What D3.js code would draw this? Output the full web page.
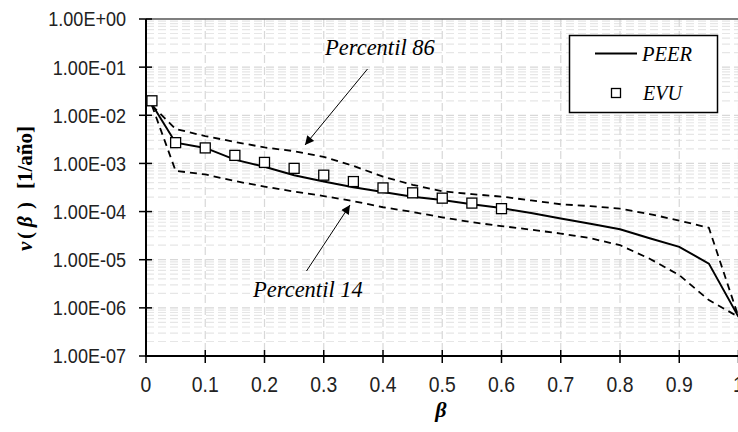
<!DOCTYPE html>
<html>
<head>
<meta charset="utf-8">
<script src="https://cdnjs.cloudflare.com/ajax/libs/d3/7.8.5/d3.min.js"></script>
<style>
  body { margin: 0; background: #fff; }
  svg { display: block; }
  .tick-label { font-family: "Liberation Sans", Arial, sans-serif; fill: #222; }
  .serif { font-family: "Liberation Serif", "Times New Roman", serif; fill: #000; }
</style>
</head>
<body>
<script>
//======== data =========//
var betaLines = [0.01, 0.05, 0.1, 0.15, 0.2, 0.25, 0.3, 0.35, 0.4, 0.45, 0.5,
                 0.55, 0.6, 0.65, 0.7, 0.75, 0.8, 0.85, 0.9, 0.95, 1.0];
var peer = [1.7e-2, 2.7e-3, 2.1e-3, 1.2e-3, 8.5e-4, 5.7e-4, 4.2e-4, 3.2e-4, 2.55e-4, 2.03e-4, 1.73e-4,
            1.42e-4, 1.18e-4, 9.3e-5, 7.2e-5, 5.6e-5, 4.3e-5, 2.8e-5, 1.85e-5, 8.3e-6, 6.5e-7];
var p86 = [1.6e-2, 5.2e-3, 3.7e-3, 2.8e-3, 2.15e-3, 1.8e-3, 1.37e-3, 8.9e-4, 5.3e-4, 3.6e-4, 2.65e-4,
           2.3e-4, 2.05e-4, 1.7e-4, 1.42e-4, 1.3e-4, 1.15e-4, 8.9e-5, 6.5e-5, 4.6e-5, 6.5e-7];
var p14 = [1.6e-2, 7.0e-4, 5.9e-4, 4.3e-4, 3.3e-4, 2.6e-4, 2.1e-4, 1.65e-4, 1.23e-4, 9.8e-5, 7.6e-5,
           6.0e-5, 5.0e-5, 4.2e-5, 3.5e-5, 2.8e-5, 2.0e-5, 1.05e-5, 4.8e-6, 1.45e-6, 6.5e-7];

var betaEvu = [0.01, 0.05, 0.1, 0.15, 0.2, 0.25, 0.3, 0.35, 0.4, 0.45, 0.5, 0.55, 0.6];
var evu = [2.0e-2, 2.7e-3, 2.1e-3, 1.47e-3, 1.05e-3, 7.9e-4, 5.7e-4, 4.2e-4, 3.1e-4, 2.45e-4, 1.9e-4, 1.5e-4, 1.15e-4];

var xTicks = [0, 0.1, 0.2, 0.3, 0.4, 0.5, 0.6, 0.7, 0.8, 0.9, 1];
var yTicks = [1e-7, 1e-6, 1e-5, 1e-4, 1e-3, 1e-2, 1e-1, 1];
var yTickLabels = ['1.00E-07', '1.00E-06', '1.00E-05', '1.00E-04', '1.00E-03', '1.00E-02', '1.00E-01', '1.00E+00'];

//======== layout =========//
var W = 738, H = 432;
var plot = {left: 146, right: 738.5, top: 19, bottom: 356};
var narrow = 0.88; // condensed look of the tick font

var x = d3.scaleLinear().domain([0, 1]).range([plot.left, plot.right]);
var y = d3.scaleLog().domain([1e-7, 1]).range([plot.bottom, plot.top]);

var svg = d3.select('body').append('svg')
  .attr('width', W)
  .attr('height', H);

// arrow marker
svg.append('defs').append('marker')
  .attr('id', 'arrow')
  .attr('viewBox', '0 0 10 10')
  .attr('refX', 10).attr('refY', 5)
  .attr('markerWidth', 10).attr('markerHeight', 9)
  .attr('markerUnits', 'userSpaceOnUse')
  .attr('orient', 'auto')
  .append('path')
  .attr('d', 'M0,0 L10,5 L0,10 z')
  .attr('fill', '#000');

//======== grid =========//
var minor = [];
for (var e = -7; e < 0; e++) {
  for (var m = 2; m <= 9; m++) minor.push(m * Math.pow(10, e));
}
var grid = svg.append('g');
grid.selectAll('.hminor').data(minor).enter().append('line')
  .attr('x1', plot.left).attr('x2', plot.right)
  .attr('y1', function(d) { return y(d); }).attr('y2', function(d) { return y(d); })
  .attr('stroke', '#e6e6e6').attr('stroke-width', 1.2)
  .attr('stroke-dasharray', '8,4');
grid.selectAll('.hmajor').data(yTicks.slice(1, -1)).enter().append('line')
  .attr('x1', plot.left).attr('x2', plot.right)
  .attr('y1', function(d) { return y(d); }).attr('y2', function(d) { return y(d); })
  .attr('stroke', '#d8d8d8').attr('stroke-width', 1.2)
  .attr('stroke-dasharray', '8,4');
grid.selectAll('.vmajor').data(xTicks.slice(1)).enter().append('line')
  .attr('x1', function(d) { return x(d); }).attr('x2', function(d) { return x(d); })
  .attr('y1', plot.top).attr('y2', plot.bottom)
  .attr('stroke', '#d8d8d8').attr('stroke-width', 1.2)
  .attr('stroke-dasharray', '8,4');

// top border
svg.append('line')
  .attr('x1', plot.left).attr('x2', W)
  .attr('y1', plot.top).attr('y2', plot.top)
  .attr('stroke', '#555').attr('stroke-width', 1.5);

//======== series =========//
var line = d3.line()
  .x(function(d) { return x(d[0]); })
  .y(function(d) { return y(d[1]); });

function pairs(xs, ys) { return xs.map(function(v, i) { return [v, ys[i]]; }); }

svg.append('path').datum(pairs(betaLines, p86))
  .attr('d', line).attr('fill', 'none').attr('stroke', '#000')
  .attr('stroke-width', 1.8).attr('stroke-dasharray', '7,5');
svg.append('path').datum(pairs(betaLines, p14))
  .attr('d', line).attr('fill', 'none').attr('stroke', '#000')
  .attr('stroke-width', 1.8).attr('stroke-dasharray', '7,5');
svg.append('path').datum(pairs(betaLines, peer))
  .attr('d', line).attr('fill', 'none').attr('stroke', '#000')
  .attr('stroke-width', 2);

var sq = 10;
svg.selectAll('.evu').data(pairs(betaEvu, evu)).enter().append('rect')
  .attr('x', function(d) { return x(d[0]) - sq / 2; })
  .attr('y', function(d) { return y(d[1]) - sq / 2; })
  .attr('width', sq).attr('height', sq)
  .attr('fill', '#fff').attr('stroke', '#000').attr('stroke-width', 1.3);

//======== axes =========//
svg.append('line')
  .attr('x1', plot.left).attr('x2', plot.left)
  .attr('y1', plot.top).attr('y2', plot.bottom + 1)
  .attr('stroke', '#000').attr('stroke-width', 2);
svg.append('line')
  .attr('x1', plot.left - 1).attr('x2', W)
  .attr('y1', plot.bottom).attr('y2', plot.bottom)
  .attr('stroke', '#000').attr('stroke-width', 2);

svg.selectAll('.ytick').data(yTicks).enter().append('line')
  .attr('x1', plot.left - 7).attr('x2', plot.left + 6)
  .attr('y1', function(d) { return y(d); }).attr('y2', function(d) { return y(d); })
  .attr('stroke', '#000').attr('stroke-width', 1.5);
svg.selectAll('.xtick').data(xTicks).enter().append('line')
  .attr('x1', function(d) { return x(d); }).attr('x2', function(d) { return x(d); })
  .attr('y1', plot.bottom - 6).attr('y2', plot.bottom + 7)
  .attr('stroke', '#000').attr('stroke-width', 1.5);

svg.selectAll('.ylab').data(yTicks).enter().append('text')
  .attr('class', 'tick-label')
  .attr('transform', function(d) { return 'translate(126,' + y(d) + ') scale(' + narrow + ',1)'; })
  .attr('dy', '0.36em')
  .attr('text-anchor', 'end')
  .style('font-size', '20.5px')
  .text(function(d, i) { return yTickLabels[i]; });

svg.selectAll('.xlab').data(xTicks).enter().append('text')
  .attr('class', 'tick-label')
  .attr('transform', function(d) { return 'translate(' + x(d) + ',391.5) scale(' + narrow + ',1)'; })
  .attr('text-anchor', 'middle')
  .style('font-size', '22px')
  .text(function(d) { return d; });

// axis titles
svg.append('text').attr('class', 'serif')
  .attr('x', 441).attr('y', 417)
  .attr('text-anchor', 'middle')
  .style('font-size', '22px').style('font-weight', 'bold').style('font-style', 'italic')
  .text('β');

var yt = svg.append('text').attr('class', 'serif')
  .attr('transform', 'translate(32,251) rotate(-90)')
  .style('font-size', '21px').style('font-weight', 'bold');
yt.append('tspan').attr('x', 0).style('font-style', 'italic').text('ν');
yt.append('tspan').attr('x', 12).text('(');
yt.append('tspan').attr('x', 24).style('font-style', 'italic').text('β');
yt.append('tspan').attr('x', 42).text(')');
yt.append('tspan').attr('x', 62).text('[1/año]');

//======== legend =========//
var lg = svg.append('g');
lg.append('rect')
  .attr('x', 569.5).attr('y', 35.5).attr('width', 148).attr('height', 77)
  .attr('fill', '#fff').attr('stroke', '#000').attr('stroke-width', 1.5);
lg.append('line')
  .attr('x1', 595).attr('x2', 637).attr('y1', 53.5).attr('y2', 53.5)
  .attr('stroke', '#000').attr('stroke-width', 2);
lg.append('text').attr('class', 'serif')
  .attr('x', 642).attr('y', 61)
  .style('font-size', '20.5px').style('font-style', 'italic')
  .text('PEER');
lg.append('rect')
  .attr('x', 611.5).attr('y', 88.5).attr('width', 9).attr('height', 9)
  .attr('fill', '#fff').attr('stroke', '#000').attr('stroke-width', 1.3);
lg.append('text').attr('class', 'serif')
  .attr('x', 643).attr('y', 100)
  .style('font-size', '20px').style('font-style', 'italic')
  .text('EVU');

//======== annotations =========//
svg.append('text').attr('class', 'serif')
  .attr('x', 325).attr('y', 55)
  .style('font-size', '22.5px').style('font-style', 'italic')
  .text('Percentil 86');
svg.append('line')
  .attr('x1', 367.5).attr('y1', 69).attr('x2', 305).attr('y2', 145)
  .attr('stroke', '#000').attr('stroke-width', 1)
  .attr('marker-end', 'url(#arrow)');

svg.append('text').attr('class', 'serif')
  .attr('x', 253).attr('y', 297)
  .style('font-size', '22.5px').style('font-style', 'italic')
  .text('Percentil 14');
svg.append('line')
  .attr('x1', 306.5).attr('y1', 271).attr('x2', 350).attr('y2', 205)
  .attr('stroke', '#000').attr('stroke-width', 1)
  .attr('marker-end', 'url(#arrow)');
</script>
</body>
</html>
